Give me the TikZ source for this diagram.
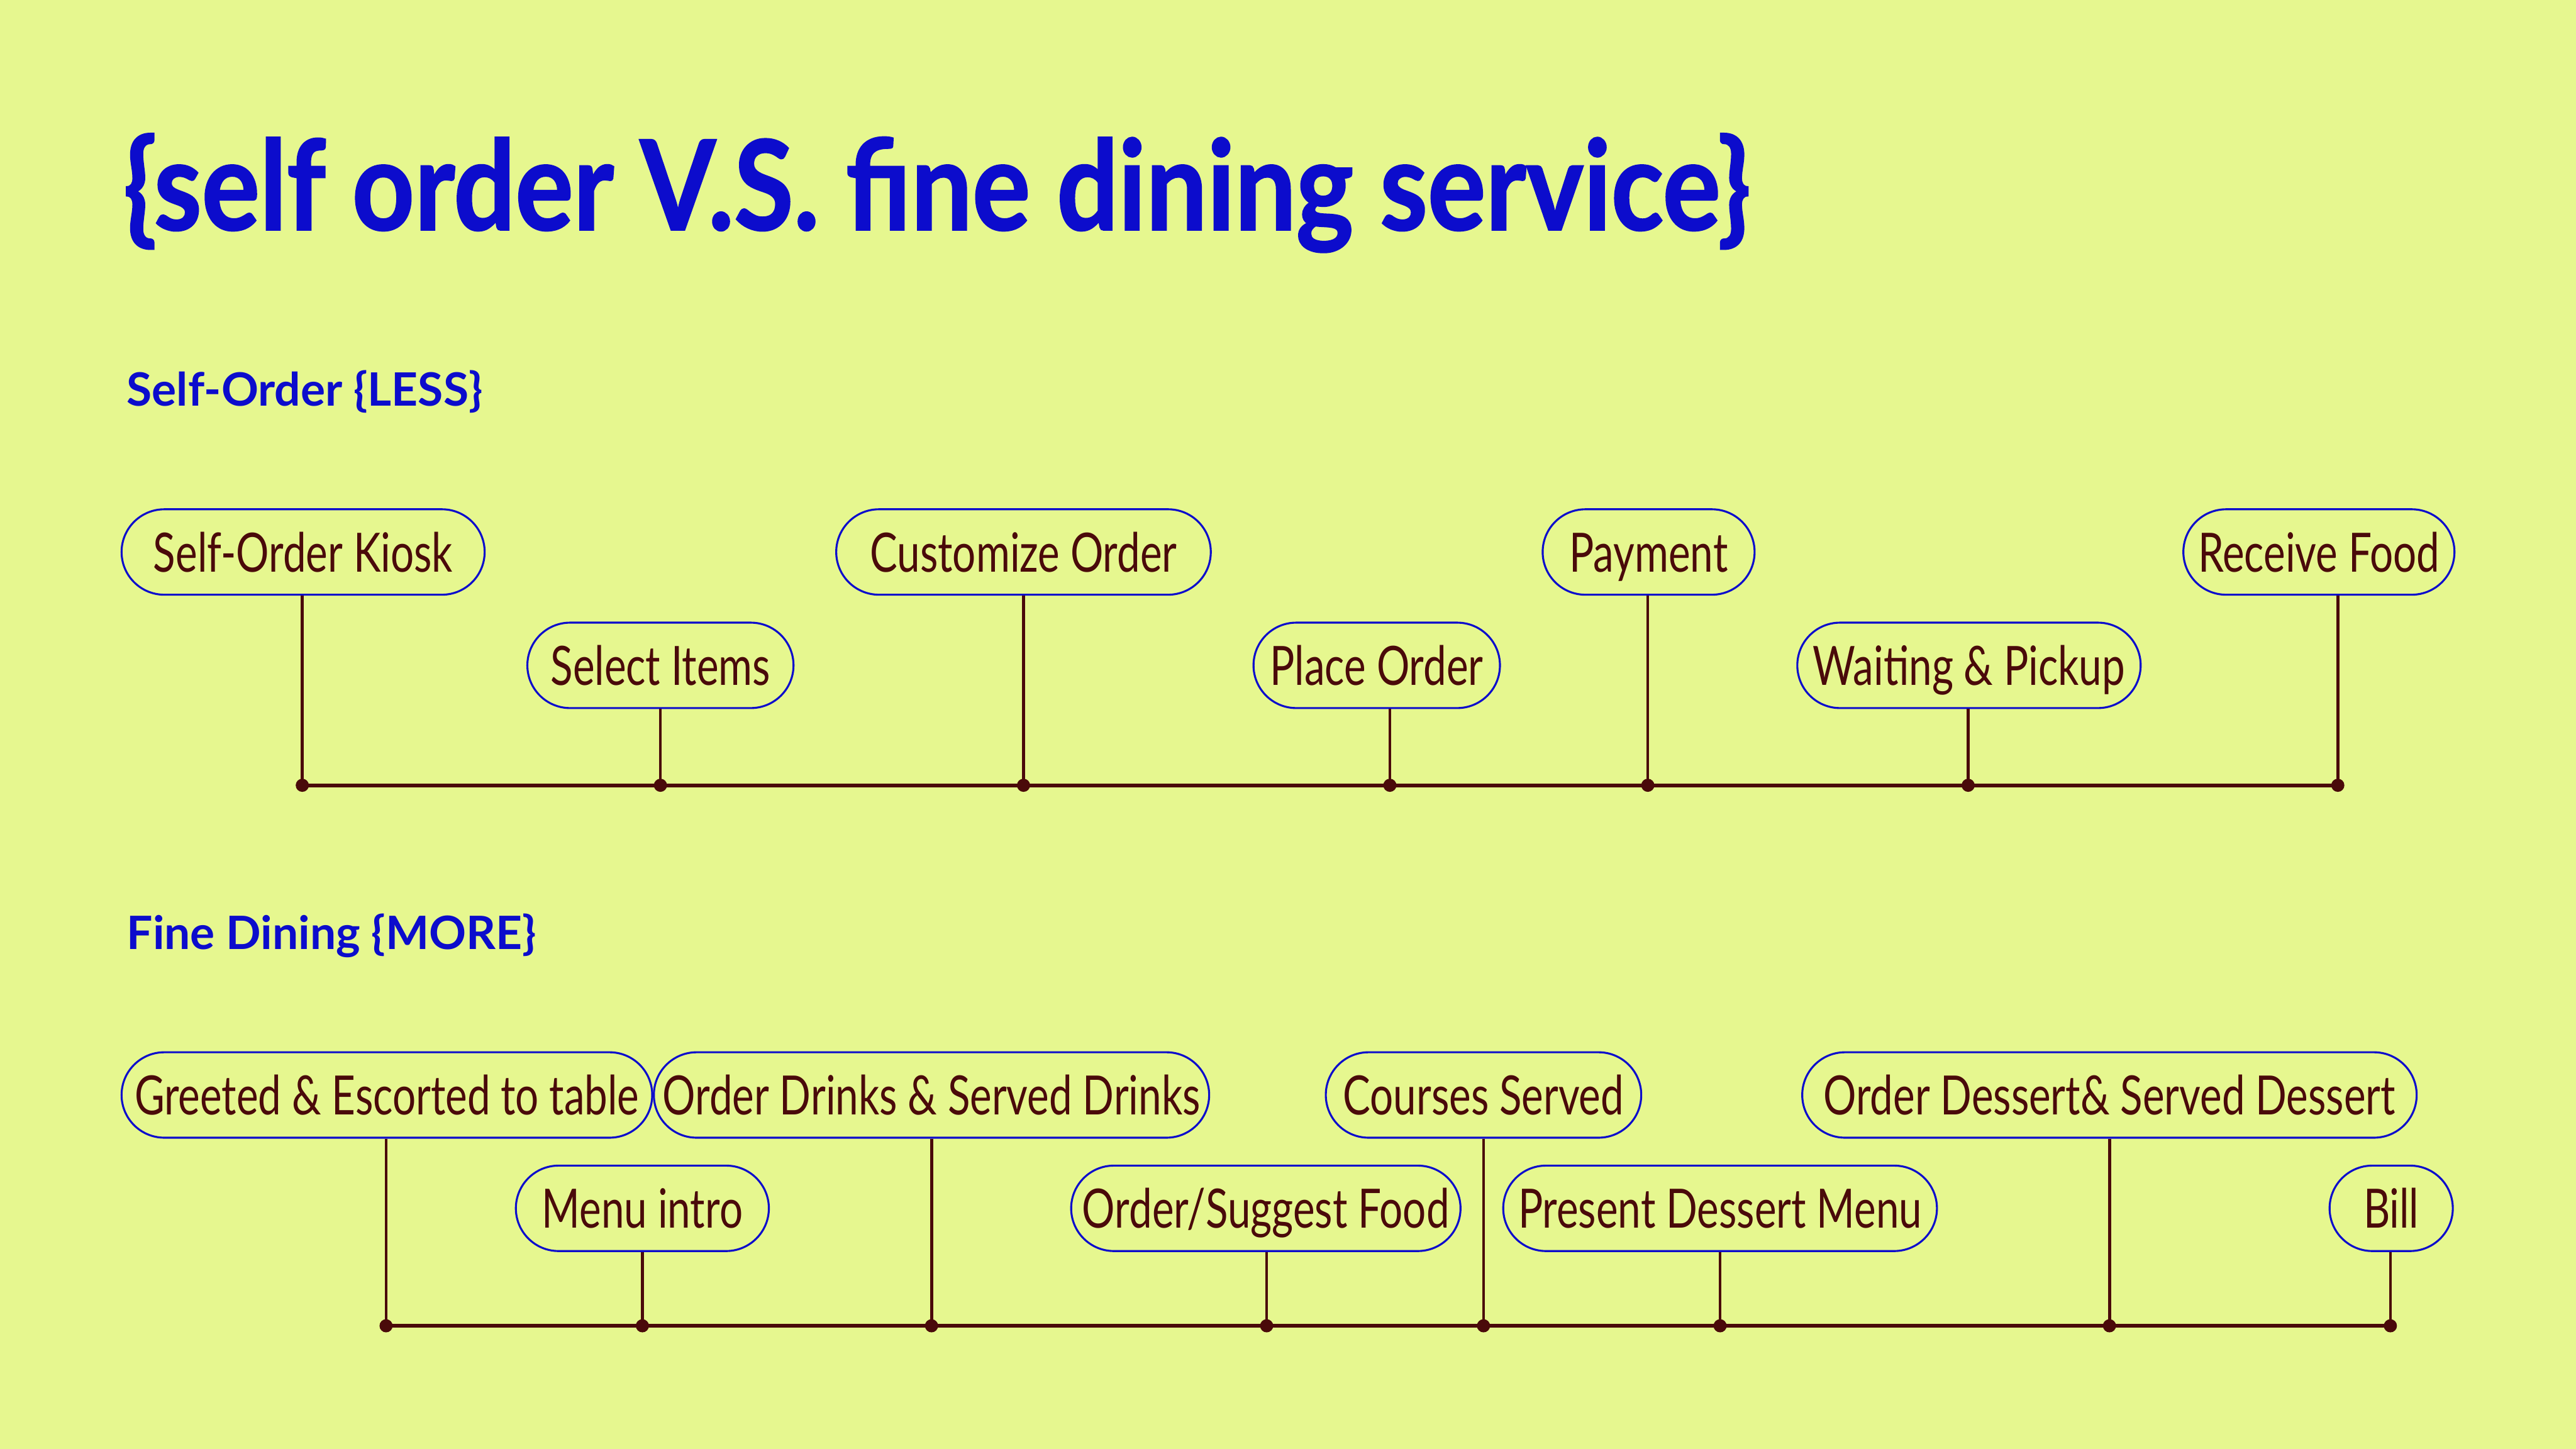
\documentclass[tikz,border=0pt]{standalone}
\usepackage{fontspec}
\setmainfont{Lato}
\newfontfamily\pillfont[FakeStretch=0.76]{Lato}
\newfontfamily\titlefont[FakeStretch=0.87,FakeBold=1.2]{Lato Bold}
\definecolor{bgc}{HTML}{E6F78F}
\definecolor{bluec}{HTML}{0C0CCC}
\definecolor{maroon}{HTML}{4A0A0A}
\tikzset{
  pill/.style={draw=bluec, line width=1.2pt, rounded corners=26pt, minimum height=52pt,
    inner sep=0pt, text height=24pt, text depth=0pt, text=maroon,
    font=\pillfont\fontsize{33}{33}\selectfont},
  conn/.style={draw=maroon, line width=1.8pt},
  axis/.style={draw=maroon, line width=2.2pt},
  dotc/.style={fill=maroon},
  heading/.style={anchor=base west, inner sep=0pt, text=bluec}
}
\begin{document}
\begin{tikzpicture}[x=1pt,y=-1pt]
\fill[bgc] (0,0) rectangle (1568,882);
\useasboundingbox (0,0) rectangle (1568,882);
\node[heading, font=\titlefont\fontsize{76}{76}\selectfont] (title) at (75,140) {\{self order V.S. fine dining service\}};
\node[heading, font=\bfseries\fontsize{28}{28}\selectfont] (h1) at (77,247) {Self-Order \{LESS\}};
\node[heading, font=\bfseries\fontsize{28}{28}\selectfont] (h2) at (77,578) {Fine Dining \{MORE\}};
% top timeline
\node[pill, minimum width=221pt] (kiosk) at (184.5,336) {Self-Order Kiosk};
\node[pill, minimum width=162pt] (select) at (402,405) {Select Items};
\node[pill, minimum width=228pt] (custom) at (623,336) {Customize Order};
\node[pill, minimum width=150pt] (place) at (838,405) {Place Order};
\node[pill, minimum width=129pt] (pay) at (1003.5,336) {Payment};
\node[pill, minimum width=209pt] (wait) at (1198.5,405) {Waiting \& Pickup};
\node[pill, minimum width=165pt] (recv) at (1411.5,336) {Receive Food};
\coordinate (a1) at (184,478);
\coordinate (a2) at (402,478);
\coordinate (a3) at (623,478);
\coordinate (a4) at (846,478);
\coordinate (a5) at (1003,478);
\coordinate (a6) at (1198,478);
\coordinate (a7) at (1423,478);
\draw[axis] (a1) -- (a7);
\foreach \n/\c in {kiosk/a1,select/a2,custom/a3,place/a4,pay/a5,wait/a6,recv/a7}{
  \draw[conn] (\n.south -| \c) -- (\c);
  \fill[dotc] (\c) circle (4pt);
}
% bottom timeline
\node[pill, minimum width=323pt] (greet) at (235.5,666.5) {Greeted \& Escorted to table};
\node[pill, minimum width=154pt] (menu) at (391,735.5) {Menu intro};
\node[pill, minimum width=338pt] (drinks) at (567,666.5) {Order Drinks \& Served Drinks};
\node[pill, minimum width=237pt] (food) at (770.5,735.5) {Order/Suggest Food};
\node[pill, minimum width=192pt] (courses) at (903,666.5) {Courses Served};
\node[pill, minimum width=264pt] (present) at (1047,735.5) {Present Dessert Menu};
\node[pill, minimum width=374pt] (dessert) at (1284,666.5) {Order Dessert\& Served Dessert};
\node[pill, minimum width=75pt] (bill) at (1455.5,735.5) {Bill};
\coordinate (b1) at (235,807);
\coordinate (b2) at (391,807);
\coordinate (b3) at (567,807);
\coordinate (b4) at (771,807);
\coordinate (b5) at (903,807);
\coordinate (b6) at (1047,807);
\coordinate (b7) at (1284,807);
\coordinate (b8) at (1455,807);
\draw[axis] (b1) -- (b8);
\foreach \n/\c in {greet/b1,menu/b2,drinks/b3,food/b4,courses/b5,present/b6,dessert/b7,bill/b8}{
  \draw[conn] (\n.south -| \c) -- (\c);
  \fill[dotc] (\c) circle (4pt);
}
\end{tikzpicture}
\end{document}
